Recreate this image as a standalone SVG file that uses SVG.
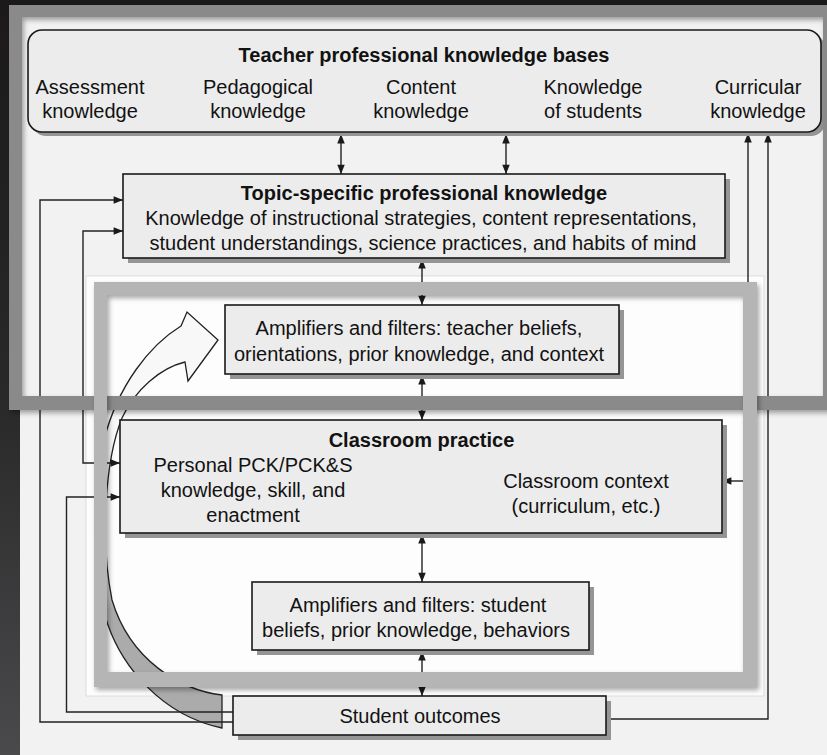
<svg xmlns="http://www.w3.org/2000/svg" width="827" height="755" viewBox="0 0 827 755">
  <defs>
    <style>
      .t { font-family: 'Liberation Sans', Arial, Helvetica, sans-serif; font-size: 20px; fill: #121212; text-anchor: middle; }
      .b { font-weight: bold; }
      .box { fill: #ececec; stroke: #1a1a1a; stroke-width: 1.6; }
      .sh { fill: #959595; }
      .ln { fill: none; stroke: #222; stroke-width: 1.4; }
      .frame1 { fill: #8a8a8a; fill-rule: evenodd; }
      .frame2 { fill: #b5b5b5; fill-rule: evenodd; }
    </style>
    <marker id="ah" viewBox="0 0 10 8" refX="10" refY="4" markerWidth="10" markerHeight="7.5" markerUnits="userSpaceOnUse" orient="auto-start-reverse">
      <path d="M0,0 L10,4 L0,8 z" fill="#1a1a1a"/>
    </marker>
    <linearGradient id="edge" x1="0" y1="0" x2="0" y2="1">
      <stop offset="0" stop-color="#1b191a"/>
      <stop offset="0.55" stop-color="#2a2a2b"/>
      <stop offset="1" stop-color="#4a4a4c"/>
    </linearGradient>
    <linearGradient id="sweep" gradientUnits="userSpaceOnUse" x1="0" y1="560" x2="0" y2="610">
      <stop offset="0" stop-color="#f8f8f8"/>
      <stop offset="1" stop-color="#ababab"/>
    </linearGradient>
    <filter id="soft" x="-5%" y="-5%" width="110%" height="115%">
      <feDropShadow dx="2" dy="3" stdDeviation="2.5" flood-color="#000" flood-opacity="0.35"/>
    </filter>
  </defs>

  <!-- page and surroundings -->
  <rect x="0" y="0" width="827" height="755" fill="url(#edge)"/>
  <rect x="20" y="5" width="807" height="750" fill="#f2f2f2"/>
  <rect x="86" y="276" width="678" height="420" fill="#fdfdfd" stroke="#d6d6d6" stroke-width="0.8"/>

  <!-- big curved arrow -->
  <g id="sweep-arrow">
    <path d="M218,340 L187,312 L181,326 C150,345 118,385 104,440 C90,500 92,580 108,625 C122,665 160,715 222,728 L222,695 C180,690 130,660 112,600 C100,540 105,460 122,418 C135,390 160,368 185,362 L188,381 Z" fill="url(#sweep)" stroke="#222" stroke-width="1.3" stroke-linejoin="miter"/>
  </g>

  <!-- connectors -->
  <g id="connectors">
    <line class="ln" x1="341" y1="134" x2="341" y2="174" marker-start="url(#ah)" marker-end="url(#ah)"/>
    <line class="ln" x1="506" y1="134" x2="506" y2="174" marker-start="url(#ah)" marker-end="url(#ah)"/>
    <line class="ln" x1="422" y1="259" x2="422" y2="305" marker-start="url(#ah)" marker-end="url(#ah)"/>
    <line class="ln" x1="422" y1="375" x2="422" y2="420" marker-start="url(#ah)" marker-end="url(#ah)"/>
    <line class="ln" x1="422" y1="534" x2="422" y2="582" marker-start="url(#ah)" marker-end="url(#ah)"/>
    <line class="ln" x1="422" y1="651" x2="422" y2="696" marker-start="url(#ah)" marker-end="url(#ah)"/>
    <!-- inside classroom practice -->
    <line class="ln" x1="422" y1="462" x2="422" y2="524" stroke-dasharray="4 3"/>
    <line class="ln" x1="397" y1="493" x2="446" y2="493" marker-start="url(#ah)" marker-end="url(#ah)"/>
    <!-- right feedback -->
    <path class="ln" d="M748,481 L748,133" marker-end="url(#ah)"/>
    <path class="ln" d="M750,481 L722,481" marker-end="url(#ah)"/>
    <path class="ln" d="M606,719 L768,719 L768,133" marker-end="url(#ah)"/>
    <!-- left feedback -->
    <path class="ln" d="M233,722 L40,722 L40,200 L123,200" marker-end="url(#ah)"/>
    <path class="ln" d="M233,712 L66.5,712 L66.5,497 L120,497" marker-end="url(#ah)"/>
    <path class="ln" d="M123,231 L83,231 L83,463 L120,463" marker-start="url(#ah)" marker-end="url(#ah)"/>
  </g>

  <!-- nodes -->
  <g id="knowledge-bases">
    <rect class="sh" x="32" y="34" width="793" height="102" rx="14"/>
    <rect class="box" x="28" y="30" width="793" height="102" rx="14"/>
    <text class="t b" x="424" y="62">Teacher professional knowledge bases</text>
    <text class="t" x="90" y="94">Assessment</text>
    <text class="t" x="90" y="118">knowledge</text>
    <text class="t" x="258" y="94">Pedagogical</text>
    <text class="t" x="258" y="118">knowledge</text>
    <text class="t" x="421" y="94">Content</text>
    <text class="t" x="421" y="118">knowledge</text>
    <text class="t" x="593" y="94">Knowledge</text>
    <text class="t" x="593" y="118">of students</text>
    <text class="t" x="758" y="94">Curricular</text>
    <text class="t" x="758" y="118">knowledge</text>
  </g>

  <g id="topic-specific">
    <rect class="sh" x="128" y="179" width="602" height="84"/>
    <rect class="box" x="123" y="174" width="602" height="84"/>
    <text class="t b" x="424" y="200">Topic-specific professional knowledge</text>
    <text class="t" x="421" y="225">Knowledge of instructional strategies, content representations,</text>
    <text class="t" x="423" y="250">student understandings, science practices, and habits of mind</text>
  </g>

  <g id="teacher-filters">
    <rect class="sh" x="230" y="310" width="394" height="69"/>
    <rect class="box" x="225" y="305" width="394" height="69"/>
    <text class="t" x="419" y="335">Amplifiers and filters: teacher beliefs,</text>
    <text class="t" x="419" y="361">orientations, prior knowledge, and context</text>
  </g>

  <g id="classroom-practice">
    <rect class="sh" x="125" y="425" width="602" height="113"/>
    <rect class="box" x="120" y="420" width="602" height="113"/>
    <text class="t b" x="421.5" y="447">Classroom practice</text>
    <text class="t" x="253" y="472">Personal PCK/PCK&amp;S</text>
    <text class="t" x="253" y="497">knowledge, skill, and</text>
    <text class="t" x="253" y="522">enactment</text>
    <text class="t" x="586" y="488">Classroom context</text>
    <text class="t" x="586" y="513">(curriculum, etc.)</text>
  </g>

  <g id="student-filters">
    <rect class="sh" x="257" y="587" width="337" height="68"/>
    <rect class="box" x="252" y="582" width="337" height="68"/>
    <text class="t" x="418" y="612">Amplifiers and filters: student</text>
    <text class="t" x="416" y="637">beliefs, prior knowledge, behaviors</text>
  </g>

  <g id="student-outcomes">
    <rect class="sh" x="238" y="701" width="373" height="39"/>
    <rect class="box" x="233" y="696" width="373" height="39"/>
    <text class="t" x="420" y="723">Student outcomes</text>
  </g>

  <!-- highlight frames -->
  <path class="frame1" filter="url(#soft)" d="M9,5 H840 V410 H9 Z M22,17 V396 H823 V17 Z"/>
  <path class="frame2" filter="url(#soft)" d="M94,282 H757 V687 H94 Z M107,295 V672 H743 V295 Z"/>
</svg>
